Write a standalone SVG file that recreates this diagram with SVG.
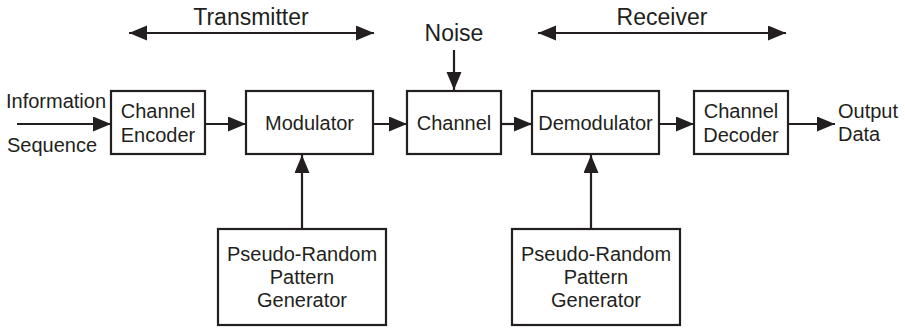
<svg xmlns="http://www.w3.org/2000/svg" width="905" height="328" viewBox="0 0 905 328">
  <defs>
    <marker id="head" markerUnits="userSpaceOnUse" markerWidth="19" markerHeight="16" refX="18" refY="7.5" orient="auto-start-reverse">
      <path d="M0,0 L18,7.5 L0,15 Z" fill="#231f20"/>
    </marker>
    <style>
      .box { fill: #ffffff; stroke: #231f20; stroke-width: 2.2; }
      .lbl { font-family: "Liberation Sans", Arial, sans-serif; font-size: 20px; fill: #231f20; }
      .hdr { font-family: "Liberation Sans", Arial, sans-serif; font-size: 23px; fill: #231f20; }
      .mid { text-anchor: middle; }
      .wire { fill: none; stroke: #231f20; stroke-width: 2.2; marker-end: url(#head); }
      .span { fill: none; stroke: #231f20; stroke-width: 2.2; marker-start: url(#head); marker-end: url(#head); }
    </style>
  </defs>

  <!-- section headings -->
  <g id="transmitter">
    <text class="hdr mid" x="251" y="25">Transmitter</text>
    <line class="span" x1="129" y1="33" x2="374" y2="33"/>
  </g>
  <g id="receiver">
    <text class="hdr mid" x="662" y="25">Receiver</text>
    <line class="span" x1="538" y1="33" x2="786" y2="33"/>
  </g>
  <g id="noise">
    <text class="hdr mid" x="454" y="41">Noise</text>
  </g>

  <!-- input / output labels -->
  <g id="input">
    <text class="lbl" x="6" y="108">Information</text>
    <text class="lbl" x="7" y="152">Sequence</text>
  </g>
  <g id="output">
    <text class="lbl" x="838" y="118">Output</text>
    <text class="lbl" x="838" y="141">Data</text>
  </g>

  <!-- blocks -->
  <g id="channel-encoder">
    <rect class="box" x="111" y="91" width="94" height="63"/>
    <text class="lbl mid" x="158" y="118">Channel</text>
    <text class="lbl mid" x="158" y="142">Encoder</text>
  </g>
  <g id="modulator">
    <rect class="box" x="246" y="91" width="127" height="63"/>
    <text class="lbl mid" x="309.5" y="130">Modulator</text>
  </g>
  <g id="channel">
    <rect class="box" x="407" y="91" width="94" height="63"/>
    <text class="lbl mid" x="454" y="130">Channel</text>
  </g>
  <g id="demodulator">
    <rect class="box" x="532" y="91" width="127" height="63"/>
    <text class="lbl mid" x="595.5" y="130">Demodulator</text>
  </g>
  <g id="channel-decoder">
    <rect class="box" x="694" y="91" width="94" height="63"/>
    <text class="lbl mid" x="741" y="118">Channel</text>
    <text class="lbl mid" x="741" y="142">Decoder</text>
  </g>
  <g id="prpg-tx">
    <rect class="box" x="218" y="229" width="168" height="96"/>
    <text class="lbl mid" x="302" y="261">Pseudo-Random</text>
    <text class="lbl mid" x="302" y="284">Pattern</text>
    <text class="lbl mid" x="302" y="307">Generator</text>
  </g>
  <g id="prpg-rx">
    <rect class="box" x="512" y="229" width="168" height="96"/>
    <text class="lbl mid" x="596" y="261">Pseudo-Random</text>
    <text class="lbl mid" x="596" y="284">Pattern</text>
    <text class="lbl mid" x="596" y="307">Generator</text>
  </g>

  <!-- connectors -->
  <g id="connectors">
    <line class="wire" x1="17" y1="124" x2="111" y2="124"/>
    <line class="wire" x1="205" y1="124" x2="246" y2="124"/>
    <line class="wire" x1="373" y1="124" x2="407" y2="124"/>
    <line class="wire" x1="501" y1="124" x2="532" y2="124"/>
    <line class="wire" x1="659" y1="124" x2="694" y2="124"/>
    <line class="wire" x1="788" y1="124" x2="835" y2="124"/>
    <line class="wire" x1="454" y1="50" x2="454" y2="90"/>
    <line class="wire" x1="302" y1="229" x2="302" y2="155"/>
    <line class="wire" x1="591" y1="229" x2="591" y2="155"/>
  </g>
</svg>
